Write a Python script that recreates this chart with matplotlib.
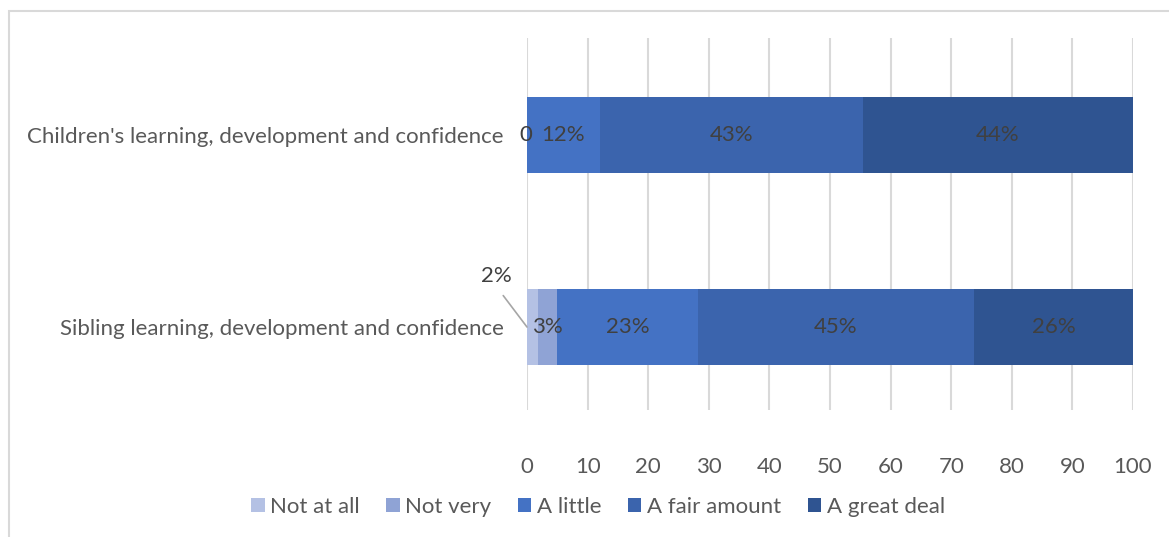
import numpy as np
import matplotlib.pyplot as plt
from matplotlib.patches import Rectangle

plt.rcParams["font.family"] = ["Lato", "DejaVu Sans"]

categories = ["Sibling learning, development and confidence",
              "Children's learning, development and confidence"]
series = ["Not at all", "Not very", "A little", "A fair amount", "A great deal"]
# values per series, order matches categories
not_at_all = [1.8, 0.0]
not_very = [3.2, 0.0]
a_little = [23.2, 12.0]
fair_amount = [45.6, 43.4]
great_deal = [26.2, 44.6]
labels = [
    ["2%", "0"],
    ["3%", ""],
    ["23%", "12%"],
    ["45%", "43%"],
    ["26%", "44%"],
]
colors = ["#B4C1E4", "#8FA3D5", "#4472C4", "#3B64AD", "#2F5491"]
fs = 16

fig = plt.figure(figsize=(11.69, 5.37), dpi=100)
ax = fig.add_axes([527 / 1169, 1 - 410 / 537, (1133 - 527) / 1169, (410 - 38) / 537])

# chart border
fig.patches.append(Rectangle((8.5 / 1169, -0.1), 1.2, 1 - 10.5 / 537 + 0.1,
                             transform=fig.transFigure, fill=False,
                             edgecolor="#D9D9D9", lw=1.5, zorder=0))

y = np.arange(len(categories))
left = np.zeros(len(categories))
all_vals = [not_at_all, not_very, a_little, fair_amount, great_deal]
for i, vals in enumerate(all_vals):
    vals = np.array(vals)
    ax.barh(y, vals, left=left, height=0.4, color=colors[i], label=series[i], zorder=3)
    for j in range(len(categories)):
        txt = labels[i][j]
        if not txt:
            continue
        cx = left[j] + vals[j] / 2
        if i == 0 and j == 0:
            # label pulled out with a leader line
            ax.annotate(txt, xy=(left[j], y[j]), xytext=(-5.1, y[j] + 0.265),
                        ha="center", va="center", fontsize=fs, color="#404040",
                        arrowprops=dict(arrowstyle="-", color="#A6A6A6", lw=1.2,
                                        relpos=(0.5, 0), shrinkA=6, shrinkB=0),
                        annotation_clip=False)
        elif i == 0 and j == 1:
            ax.text(cx - 0.2, y[j], txt, ha="center", va="center", fontsize=fs,
                    color="#404040", zorder=4)
        else:
            ax.text(cx, y[j], txt, ha="center", va="center", fontsize=fs,
                    color="#404040", zorder=4)
    left = left + vals

ax.set_xlim(0, 100)
ax.set_ylim(-0.432, 1.505)
ax.set_xticks(np.arange(0, 101, 10))
ax.set_yticks(y)
ax.set_yticklabels(categories)
ax.tick_params(axis="x", length=0, pad=34, labelsize=fs, labelcolor="#595959")
ax.tick_params(axis="y", length=0, pad=17, labelsize=fs, labelcolor="#595959")
ax.grid(axis="x", color="#D9D9D9", lw=1.5, zorder=0)
for s in ax.spines.values():
    s.set_visible(False)

ax.legend(loc="center", bbox_to_anchor=(598 / 1169, 1 - 507 / 537),
          bbox_transform=fig.transFigure, ncol=5, frameon=False,
          fontsize=fs, labelcolor="#595959", handlelength=0.6, handleheight=0.6,
          handletextpad=0.25, columnspacing=1.2)

fig.savefig("out.png", dpi=100)
